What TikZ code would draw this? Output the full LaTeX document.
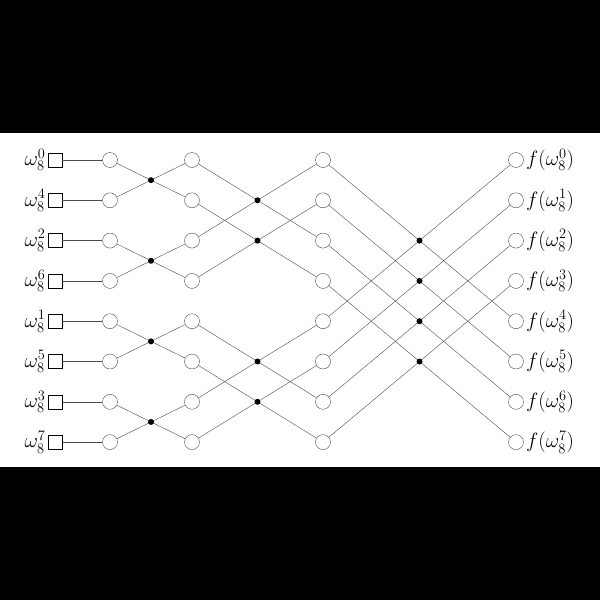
\documentclass[tikz,border=0pt]{standalone}
\usepackage{amsmath}
\usetikzlibrary{calc}
\begin{document}
\begin{tikzpicture}[x=1pt,y=-1pt,thin,draw=black!70]
\tikzstyle{every node}=[font=\fontsize{20}{24}\selectfont]
\tikzstyle{vtx}=[draw=black!70,circle,minimum size=15pt,inner sep=0pt,fill=white]
\tikzstyle{inbox}=[draw=black,semithick,minimum size=14pt,inner sep=0pt]
\tikzstyle{junc}=[circle,fill=black,inner sep=0pt,minimum size=6pt]
\fill[black] (0,0) rectangle (600,600);
\fill[white] (0,133) rectangle (600,467);
% inputs in bit-reversed order
\foreach \k/\e in {0/0,1/4,2/2,3/6,4/1,5/5,6/3,7/7} {
  \node[inbox] (s\k) at (55,160+40.3*\k) {};
  \node[anchor=east,inner sep=2pt] (l\k) at (s\k.west) {$\omega_8^{\e}$};
  \node[anchor=west,inner sep=2pt] (r\k) at (524,160+40.3*\k) {$f(\omega_8^{\k})$};
}
\foreach \c/\x in {a/110,b/192,c/323,d/516}
  \foreach \k in {0,...,7}
    \node[vtx] (\c\k) at (\x,160+40.3*\k) {};
\foreach \k in {0,...,7}
  \draw (s\k) -- (a\k);
% butterflies
\foreach \i/\j in {0/1,2/3,4/5,6/7} {
  \draw (a\i) -- (b\j); \draw (a\j) -- (b\i);
  \node[junc] at ($(a\i)!0.5!(b\j)$) {};
}
\foreach \i/\j in {0/2,1/3,4/6,5/7} {
  \draw (b\i) -- (c\j); \draw (b\j) -- (c\i);
  \node[junc] at ($(b\i)!0.5!(c\j)$) {};
}
\foreach \i/\j in {0/4,1/5,2/6,3/7} {
  \draw (c\i) -- (d\j); \draw (c\j) -- (d\i);
  \node[junc] at ($(c\i)!0.5!(d\j)$) {};
}
\end{tikzpicture}
\end{document}
